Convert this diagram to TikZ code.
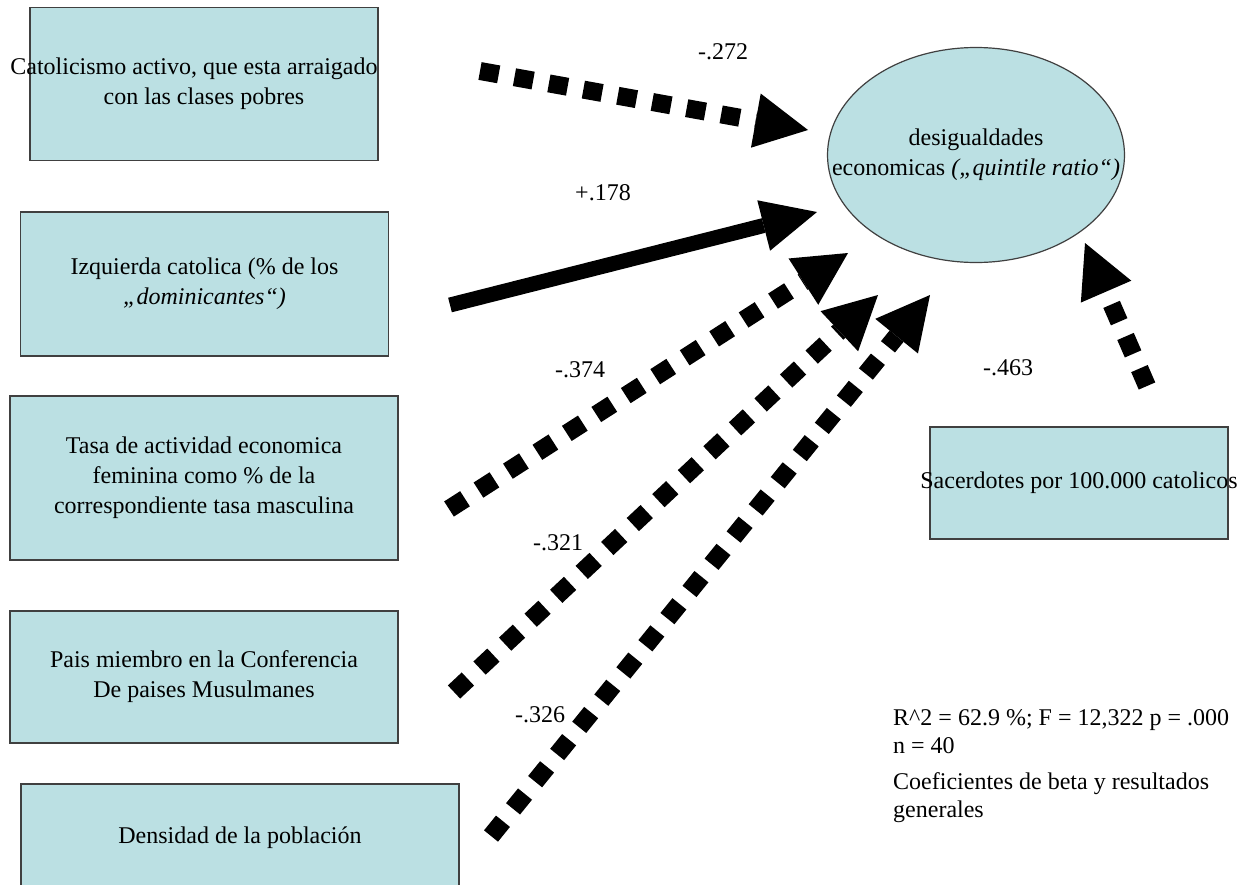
\documentclass[tikz,border=0pt]{standalone}
\usepackage{fontspec}
\setmainfont{Liberation Serif}
\usetikzlibrary{arrows.meta,shapes.geometric}
\definecolor{boxfill}{RGB}{187,224,227}
\begin{document}
\begin{tikzpicture}[x=1pt,y=-1pt,
  font=\fontsize{24}{30}\selectfont,
  varbox/.style={draw=black!75,line width=1.2pt,fill=boxfill,align=center,inner sep=0pt},
  beta/.style={inner sep=0pt},
  dotarrow/.style={line width=18pt,dash pattern=on 19pt off 16pt,
    -{Triangle[length=53pt,width=55pt,line width=0pt]}},
  fullarrow/.style={line width=15pt,-{Triangle[length=55pt,width=52pt,line width=0pt]}}]
\useasboundingbox (0,0) rectangle (1258,884);
\clip (0,0) rectangle (1258,884);

% variables
\node[varbox,minimum width=348pt,minimum height=153pt] (catolicismo) at (204,84)
  {\makebox[0pt]{Catolicismo activo, que esta arraigado\hspace{20pt}}\\con las clases pobres};
\node[varbox,minimum width=368pt,minimum height=144pt] (izquierda) at (204.5,284)
  {Izquierda catolica (\% de los\\\itshape „dominicantes“)};
\node[varbox,minimum width=388pt,minimum height=164pt] (tasa) at (204,478)
  {Tasa de actividad economica\\feminina como \% de la\\correspondiente tasa masculina};
\node[varbox,minimum width=388pt,minimum height=132pt] (pais) at (204,677)
  {Pais miembro en la Conferencia\\De paises Musulmanes};
\node[varbox,minimum width=438pt,minimum height=108pt] (densidad) at (240,838)
  {Densidad de la población};
\node[varbox,minimum width=298pt,minimum height=112pt] (sacerdotes) at (1079,483)
  {\makebox[0pt]{Sacerdotes por 100.000 catolicos}};
\node[varbox,ellipse,minimum width=297pt,minimum height=215pt] (desig) at (976,155)
  {desigualdades\\\makebox[0pt]{economicas \textit{(„quintile ratio“)}}};

% arrow ends
\coordinate (t1) at (480,71);   \coordinate (h1) at (808,130);
\coordinate (t2) at (450,305);  \coordinate (h2) at (817,212);
\coordinate (t3) at (449,509);  \coordinate (h3) at (848,253);
\coordinate (t4) at (454,692);  \coordinate (h4) at (878,295);
\coordinate (t5) at (491,836);  \coordinate (h5) at (930,295);
\coordinate (t6) at (1147,386); \coordinate (h6) at (1085,243);

\draw[dotarrow] (t1) -- (h1);
\draw[fullarrow] (t2) -- (h2);
\draw[dotarrow] (t3) -- (h3);
\draw[dotarrow] (t4) -- (h4);
\draw[dotarrow] (t5) -- (h5);
\draw[dotarrow] (t6) -- (h6);

% beta values
\node[beta] (b1) at (723,52) {-.272};
\node[beta] (b2) at (603,193) {+.178};
\node[beta] (b3) at (580,370) {-.374};
\node[beta] (b4) at (558,543) {-.321};
\node[beta] (b5) at (540,715) {-.326};
\node[beta] (b6) at (1008,368) {-.463};

\node[beta,anchor=west,align=left,font=\fontsize{24}{28}\selectfont] (stats) at (893,732)
  {R\textasciicircum2 = 62.9 \%; F = 12,322 p = .000\\n = 40};
\node[beta,anchor=west,align=left,font=\fontsize{24}{28}\selectfont] (nota) at (893,798)
  {Coeficientes de beta y resultados\\generales};
\end{tikzpicture}
\end{document}
